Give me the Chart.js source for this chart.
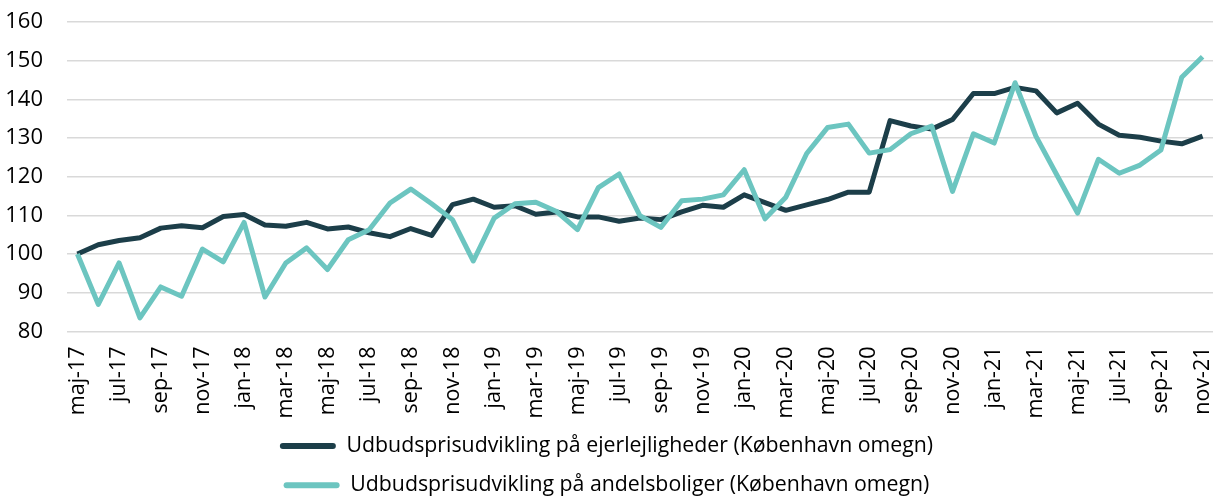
<!DOCTYPE html>
<html>
<head>
<meta charset="utf-8">
<script src="https://cdn.jsdelivr.net/npm/chart.js@4"></script>
<style>
    html, body { margin: 0; padding: 0; background: #fff; }
    #wrap { width: 1219px; height: 496px; position: relative; }
</style>
</head>
<body>
<div id="wrap"><canvas id="chartUdbud"></canvas></div>
<script>
const MAANEDER = ['jan', 'feb', 'mar', 'apr', 'maj', 'jun', 'jul', 'aug', 'sep', 'okt', 'nov', 'dec'];

// maj-17 .. nov-21
const labels = [];
for (let aar = 17; aar <= 21; aar++) {
    for (let m = 0; m < 12; m++) {
        if (aar === 17 && m < 4) continue;
        if (aar === 21 && m > 10) continue;
        labels.push(`${MAANEDER[m]}-${aar}`);
    }
}

const ejerlejligheder = [
    100, 102.4, 103.5, 104.2, 106.7, 107.3, 106.8, 109.7, 110.2, 107.5,
    107.2, 108.2, 106.5, 107.0, 105.5, 104.5, 106.6, 104.8, 112.8, 114.2,
    112.1, 112.5, 110.3, 110.9, 109.6, 109.6, 108.5, 109.3, 108.9, 110.9,
    112.6, 112.1, 115.3, 113.3, 111.3, 112.7, 114.1, 116.0, 116.0, 134.5,
    133.1, 132.3, 134.8, 141.5, 141.5, 143.1, 142.2, 136.5, 139.0, 133.6,
    130.7, 130.2, 129.2, 128.5, 130.5
];

const andelsboliger = [
    100, 87.0, 97.7, 83.5, 91.5, 89.1, 101.3, 98.0, 108.2, 88.9,
    97.7, 101.6, 96.0, 103.7, 106.3, 113.2, 116.8, 113.0, 108.9, 98.2,
    109.3, 113.0, 113.4, 111.0, 106.3, 117.2, 120.7, 109.9, 106.9, 113.8,
    114.2, 115.3, 121.8, 109.1, 114.7, 126.0, 132.7, 133.6, 126.1, 127.0,
    131.1, 133.1, 116.2, 131.1, 128.7, 144.3, 130.5, 120.5, 110.6, 124.5,
    120.9, 123.0, 126.9, 145.7, 151.0
];

const FONT = "'Open Sans', 'DejaVu Sans', sans-serif";
const MORK = '#1c3e49';
const LYS = '#6cc5c0';

const chartUdbud = new Chart(document.getElementById('chartUdbud').getContext('2d'), {
    type: 'line',
    data: {
        labels: labels,
        datasets: [{
            label: 'Udbudsprisudvikling på ejerlejligheder (København omegn)',
            data: ejerlejligheder,
            borderColor: MORK,
            backgroundColor: MORK,
            borderWidth: 5,
            tension: 0,
            pointRadius: 0,
            borderJoinStyle: 'round',
            order: 1
        }, {
            label: 'Udbudsprisudvikling på andelsboliger (København omegn)',
            data: andelsboliger,
            borderColor: LYS,
            backgroundColor: LYS,
            borderWidth: 5,
            tension: 0,
            pointRadius: 0,
            borderJoinStyle: 'round',
            order: 0
        }]
    },
    options: {
        responsive: true,
        maintainAspectRatio: false,
        animation: false,
        layout: {
            padding: { left: 0, right: 6, top: 22, bottom: -10 }
        },
        plugins: {
            tooltip: { enabled: false },
            legend: {
                position: 'bottom',
                labels: {
                    color: '#000',
                    font: { family: FONT, size: 21.3 },
                    boxWidth: 56,
                    boxHeight: 6,
                    padding: 18,
                    sort: (a, b) => a.datasetIndex - b.datasetIndex,
                    generateLabels: (chart) => {
                        const items = Chart.defaults.plugins.legend.labels.generateLabels(chart);
                        items.forEach(it => {
                            it.lineWidth = 0;
                            it.fillStyle = it.strokeStyle;
                            it.borderRadius = 3;
                        });
                        return items;
                    }
                }
            }
        },
        scales: {
            x: {
                offset: true,
                grid: { display: false, drawTicks: false },
                border: { display: false },
                ticks: {
                    color: '#000',
                    font: { family: FONT, size: 21.5 },
                    autoSkip: false,
                    minRotation: 90,
                    maxRotation: 90,
                    padding: 15,
                    callback: function (value, index) {
                        return index % 2 === 0 ? this.getLabelForValue(value) : '';
                    }
                },
                afterFit: (scale) => {
                    scale.paddingLeft = 0;
                    scale.paddingRight = 0;
                    scale.height = 86;
                }
            },
            y: {
                min: 80,
                max: 160,
                grid: { color: '#d9d9d9', lineWidth: 1.5, drawTicks: false },
                border: { display: false },
                ticks: {
                    stepSize: 10,
                    color: '#000',
                    font: { family: FONT, size: 22 },
                    padding: 24
                },
                afterFit: (scale) => {
                    scale.paddingTop = 0;
                    scale.paddingBottom = 0;
                    scale.width = 67;
                }
            }
        }
    }
});
</script>
</body>
</html>
